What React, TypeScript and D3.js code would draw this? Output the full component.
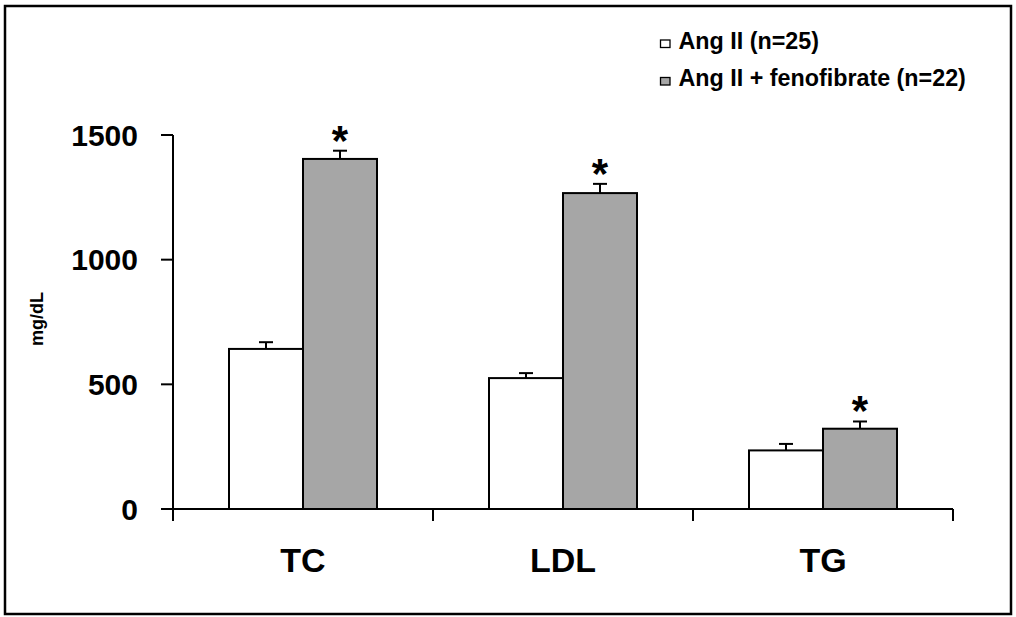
import React from "react";
import * as d3 from "d3";

const categories = ["TC", "LDL", "TG"];
const seriesNames = ["Ang II (n=25)", "Ang II + fenofibrate (n=22)"];
const angII = [642, 525, 235];
const angIIErr = [27, 20, 26];
const feno = [1404, 1267, 322];
const fenoErr = [33, 37, 29];
const significant = [true, true, true];
const yTicks = [0, 500, 1000, 1500];
const seriesFill = ["#ffffff", "#a6a6a6"];

const FONT = "'Liberation Sans', Arial, Helvetica, sans-serif";

export default function App() {
  const W = 1016, H = 617;
  const x0 = d3.scaleBand<string>().domain(categories).range([173, 953]).padding(0);
  const x1 = d3.scaleBand<string>().domain(seriesNames).range([56, 204]).padding(0);
  const y = d3.scaleLinear().domain([0, 1500]).range([509, 135]);
  const values = [angII, feno];
  const errs = [angIIErr, fenoErr];
  const xTickPos = [...categories.map((c) => x0(c)!), x0.range()[1]];

  return (
    <svg width={W} height={H} style={{ position: "absolute", left: 0, top: 0, background: "#fff" }} fontFamily={FONT}>
      <rect x={0} y={0} width={W} height={H} fill="#fff" />
      <rect x={5} y={6} width={1006} height={608} fill="none" stroke="#000" strokeWidth={2.5} />

      {/* bars */}
      {categories.map((c, ci) =>
        seriesNames.map((s, si) => {
          const bx = x0(c)! + x1(s)!;
          const bw = x1.bandwidth();
          const v = values[si][ci];
          const e = errs[si][ci];
          const cx = bx + bw / 2;
          return (
            <g key={c + s}>
              <line x1={cx} x2={cx} y1={y(v)} y2={y(v + e)} stroke="#000" strokeWidth={2} />
              <line x1={cx - 7} x2={cx + 7} y1={y(v + e)} y2={y(v + e)} stroke="#000" strokeWidth={2} />
              <rect x={bx} y={y(v)} width={bw} height={y(0) - y(v)} fill={seriesFill[si]} stroke="#000" strokeWidth={2} />
              {si === 1 && significant[ci] ? (
                <text x={cx} y={y(v + e) + 4} textAnchor="middle" fontSize={42} fontWeight="bold">*</text>
              ) : null}
            </g>
          );
        })
      )}

      {/* y axis */}
      <line x1={173} x2={173} y1={y(1500)} y2={y(0)} stroke="#000" strokeWidth={2} />
      {yTicks.map((t) => (
        <g key={t}>
          <line x1={161} x2={173} y1={y(t)} y2={y(t)} stroke="#000" strokeWidth={2} />
          <text x={138} y={y(t)} dy="0.36em" textAnchor="end" fontSize={30} fontWeight="bold">{t}</text>
        </g>
      ))}
      <text transform={`translate(43,319) rotate(-90)`} textAnchor="middle" fontSize={18} fontWeight="bold">mg/dL</text>

      {/* x axis */}
      <line x1={173} x2={953} y1={y(0)} y2={y(0)} stroke="#000" strokeWidth={2} />
      {xTickPos.map((p, i) => (
        <line key={i} x1={p} x2={p} y1={y(0)} y2={y(0) + 12} stroke="#000" strokeWidth={2} />
      ))}
      {categories.map((c) => (
        <text key={c} x={x0(c)! + x0.bandwidth() / 2} y={572} textAnchor="middle" fontSize={34} fontWeight="bold">{c}</text>
      ))}

      {/* legend */}
      {seriesNames.map((s, i) => (
        <g key={s} transform={`translate(660, ${40 + i * 37.5})`}>
          <rect x={0.5} y={0} width={9.5} height={7.5} fill={seriesFill[i]} stroke="#000" strokeWidth={1.3} />
          <text x={18.5} y={8.5} fontSize={23.3} fontWeight="bold">{s}</text>
        </g>
      ))}
    </svg>
  );
}
